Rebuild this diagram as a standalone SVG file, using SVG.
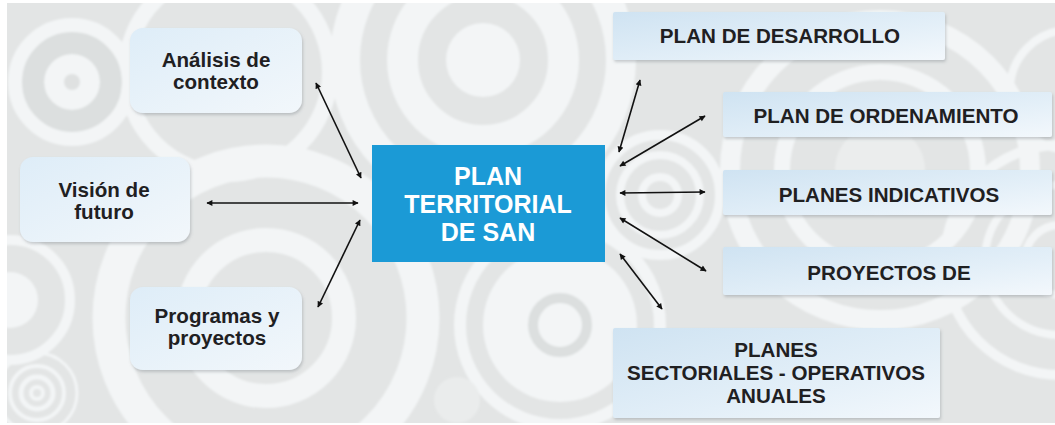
<svg xmlns="http://www.w3.org/2000/svg" width="1055" height="425" viewBox="0 0 1055 425">
  <defs>
    <style>
      .ring { fill: none; stroke: #f3f5f6; }
      .disc { fill: #f3f5f6; }
      .dark { fill: none; stroke: #dcdfdf; }
      .lbl { font-family: "Liberation Sans", Arial, sans-serif; font-weight: bold; font-size: 20.6px; fill: #1f2022; text-anchor: middle; }
      .core { font-family: "Liberation Sans", Arial, sans-serif; font-weight: bold; font-size: 25px; fill: #ffffff; text-anchor: middle; }
      .link { stroke: #111111; stroke-width: 1.6; fill: none; marker-start: url(#tip); marker-end: url(#tip); }
      .rnode { fill: url(#rightFill); filter: url(#shade); }
      .lnode { fill: url(#leftFill); filter: url(#shade); }
    </style>
    <linearGradient id="leftFill" x1="0" y1="0" x2="1" y2="1">
      <stop offset="0" stop-color="#deedf8"/>
      <stop offset="1" stop-color="#f2f7fb"/>
    </linearGradient>
    <linearGradient id="rightFill" x1="0" y1="0" x2="1" y2="1">
      <stop offset="0" stop-color="#cfe3f2"/>
      <stop offset="0.6" stop-color="#e3eff8"/>
      <stop offset="1" stop-color="#f3f8fc"/>
    </linearGradient>
    <filter id="shade" x="-10%" y="-20%" width="125%" height="150%">
      <feDropShadow dx="1" dy="2" stdDeviation="1.6" flood-color="#6f7a80" flood-opacity="0.35"/>
    </filter>
    <filter id="soften" x="-5%" y="-5%" width="110%" height="110%">
      <feGaussianBlur stdDeviation="1.2"/>
    </filter>
    <marker id="tip" viewBox="0 0 10 10" refX="9" refY="5" markerWidth="8" markerHeight="6" markerUnits="userSpaceOnUse" orient="auto-start-reverse">
      <path d="M0,0 L10,5 L0,10 z" fill="#111111"/>
    </marker>
    <clipPath id="panel">
      <rect x="7" y="3" width="1048" height="420"/>
    </clipPath>
  </defs>

  <!-- backdrop: grey panel with pale concentric rings -->
  <rect x="0" y="0" width="1055" height="425" fill="#ffffff"/>
  <g clip-path="url(#panel)">
    <rect x="7" y="3" width="1048" height="420" fill="#e3e5e5"/>
    <g filter="url(#soften)">
      <!-- rings top-left -->
      <circle class="ring" cx="228" cy="72" r="102" stroke-width="16"/>
      <circle class="disc" cx="72" cy="82" r="28"/>
      <circle cx="72" cy="82" r="8" fill="#dfe1e1"/>
      <circle class="dark" cx="72" cy="82" r="39" stroke-width="22"/>
      <circle class="ring" cx="72" cy="82" r="57" stroke-width="14"/>

      <!-- rings left middle -->
      <circle class="disc" cx="10" cy="300" r="28"/>
      <circle class="ring" cx="10" cy="300" r="60" stroke-width="10"/>

      <!-- rings bottom-left -->
      <circle class="ring" cx="37" cy="393" r="6" stroke-width="4"/>
      <circle class="ring" cx="37" cy="393" r="16" stroke-width="5"/>
      <circle class="ring" cx="37" cy="393" r="27" stroke-width="4"/>
      <circle class="ring" cx="37" cy="393" r="40" stroke-width="3"/>

      <!-- rings behind the lower-left node -->
      <circle class="ring" cx="266" cy="318" r="78" stroke-width="24"/>
      <circle class="ring" cx="266" cy="318" r="157" stroke-width="33"/>

      <!-- rings top centre -->
      <circle class="disc" cx="483" cy="60" r="37"/>
      <circle class="ring" cx="483" cy="60" r="80.5" stroke-width="31"/>
      <circle class="ring" cx="483" cy="60" r="138" stroke-width="30"/>

      <!-- rings bottom centre -->
      <circle class="disc" cx="560" cy="325" r="77"/>
      <circle class="dark" cx="560" cy="325" r="27" stroke-width="10"/>
      <circle class="ring" cx="560" cy="325" r="100" stroke-width="12"/>
      <circle cx="457" cy="400" r="23" fill="#eaecec"/>

      <!-- rings right of the centre box -->
      <circle class="ring" cx="660" cy="195" r="18" stroke-width="8"/>
      <circle class="ring" cx="660" cy="195" r="40" stroke-width="8"/>
      <circle class="ring" cx="660" cy="195" r="60" stroke-width="10"/>

      <!-- rings right side -->
      <circle cx="880" cy="170" r="45" fill="#ebeded"/>
      <circle class="ring" cx="880" cy="170" r="98" stroke-width="16"/>
      <circle class="ring" cx="880" cy="170" r="150" stroke-width="20"/>
      <circle class="ring" cx="1060" cy="260" r="35" stroke-width="8"/>
      <circle class="ring" cx="1060" cy="260" r="75" stroke-width="8"/>
      <circle class="ring" cx="1060" cy="260" r="115" stroke-width="10"/>
      <circle class="ring" cx="1070" cy="90" r="60" stroke-width="8"/>
    </g>
  </g>

  <!-- connectors -->
  <g id="connectors">
    <line class="link" x1="361" y1="178" x2="316" y2="83"/>
    <line class="link" x1="358" y1="203" x2="207" y2="203"/>
    <line class="link" x1="360" y1="220" x2="318" y2="307"/>
    <line class="link" x1="619" y1="152" x2="640" y2="80"/>
    <line class="link" x1="620" y1="166" x2="705" y2="116"/>
    <line class="link" x1="620" y1="193" x2="705" y2="192"/>
    <line class="link" x1="620" y1="218" x2="706" y2="271"/>
    <line class="link" x1="620" y1="254" x2="662" y2="309"/>
  </g>

  <!-- left nodes -->
  <g id="node-analisis">
    <rect class="lnode" x="130" y="28" width="172" height="85" rx="13"/>
    <text class="lbl" x="216" y="67">Análisis de</text>
    <text class="lbl" x="216" y="89">contexto</text>
  </g>
  <g id="node-vision">
    <rect class="lnode" x="20" y="157" width="170" height="85" rx="13"/>
    <text class="lbl" x="104" y="197">Visión de</text>
    <text class="lbl" x="104" y="219">futuro</text>
  </g>
  <g id="node-programas">
    <rect class="lnode" x="130" y="287" width="172" height="83" rx="13"/>
    <text class="lbl" x="217" y="323">Programas y</text>
    <text class="lbl" x="217" y="345">proyectos</text>
  </g>

  <!-- central node -->
  <g id="node-plan-territorial">
    <rect x="372" y="145" width="233" height="117" fill="#1b9ad6"/>
    <text class="core" x="488" y="185">PLAN</text>
    <text class="core" x="488" y="213">TERRITORIAL</text>
    <text class="core" x="488" y="241">DE SAN</text>
  </g>

  <!-- right nodes -->
  <g id="node-desarrollo">
    <rect class="rnode" x="613" y="12" width="332" height="48" rx="2"/>
    <text class="lbl" x="780" y="43">PLAN DE DESARROLLO</text>
  </g>
  <g id="node-ordenamiento">
    <rect class="rnode" x="723" y="92" width="329" height="45" rx="2"/>
    <text class="lbl" x="886" y="123">PLAN DE ORDENAMIENTO</text>
  </g>
  <g id="node-indicativos">
    <rect class="rnode" x="723" y="170" width="329" height="45" rx="2"/>
    <text class="lbl" x="889" y="202">PLANES INDICATIVOS</text>
  </g>
  <g id="node-proyectos">
    <rect class="rnode" x="723" y="247" width="329" height="48" rx="2"/>
    <text class="lbl" x="889" y="280">PROYECTOS DE</text>
  </g>
  <g id="node-sectoriales">
    <rect class="rnode" x="613" y="328" width="327" height="90" rx="2"/>
    <text class="lbl" x="776" y="357">PLANES</text>
    <text class="lbl" x="776" y="380">SECTORIALES - OPERATIVOS</text>
    <text class="lbl" x="776" y="403">ANUALES</text>
  </g>
</svg>
